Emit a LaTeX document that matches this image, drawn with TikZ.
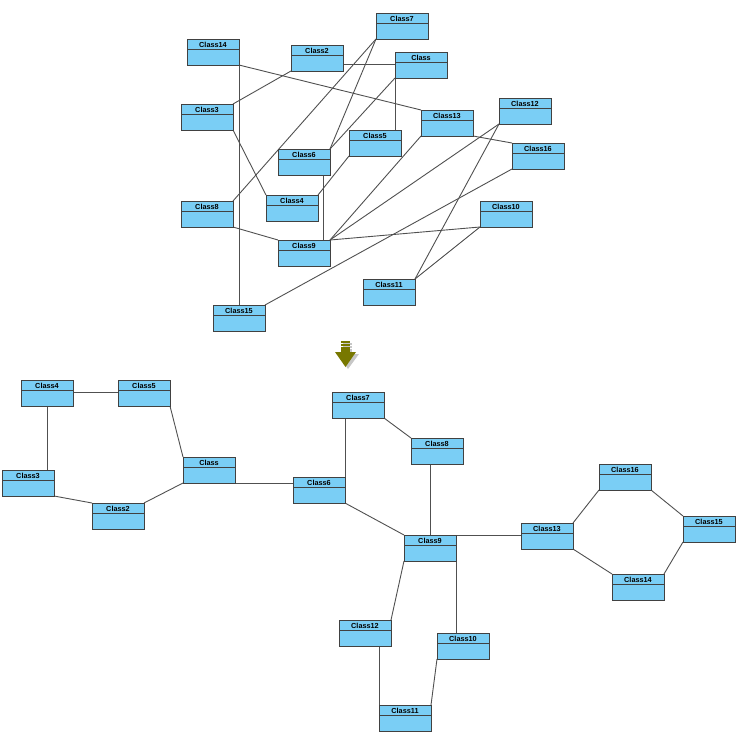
\documentclass[tikz,border=0pt]{standalone}
\usepackage{fontspec}
\setmainfont{Liberation Sans}
\usetikzlibrary{calc,backgrounds}
\definecolor{clsfill}{RGB}{122,206,245}
\definecolor{clsdraw}{RGB}{65,65,65}
\definecolor{edgecol}{RGB}{80,80,80}
\definecolor{olivearrow}{RGB}{120,120,0}
\tikzset{
  clsbox/.style={draw=clsdraw, fill=clsfill, line width=1pt, anchor=north west,
    minimum width=52pt, minimum height=26pt, inner sep=0pt, outer sep=0pt},
  clstitle/.style={anchor=base, inner sep=0pt, font=\fontsize{7.3}{8}\selectfont\bfseries, text=black},
  sepline/.style={draw=clsdraw, line width=1pt},
  edge/.style={draw=edgecol, line width=0.9pt}
}
\newcommand\umlc[4]{%
  \node[clsbox] (#1) at (#2,#3) {};
  \node[clstitle] (#1t) at ($(#1.north)+(0,8)$) {#4};
  \draw[sepline] ([yshift=-10pt]#1.north west) -- ([yshift=-10pt]#1.north east);
}
\begin{document}
\begin{tikzpicture}[x=1pt,y=-1pt]
\useasboundingbox (0,0) rectangle (738,740);
% ---------- top graph ----------
\umlc{t7}{376}{13}{Class7}
\umlc{t14}{187}{39}{Class14}
\umlc{t2}{291}{45}{Class2}
\umlc{tA}{395}{52}{Class}
\umlc{t3}{181}{104}{Class3}
\umlc{t13}{421}{110}{Class13}
\umlc{t5}{349}{130}{Class5}
\umlc{t6}{278}{149}{Class6}
\umlc{t12}{499}{98}{Class12}
\umlc{t16}{512}{143}{Class16}
\umlc{t8}{181}{201}{Class8}
\umlc{t4}{266}{195}{Class4}
\umlc{t9}{278}{240}{Class9}
\umlc{t10}{480}{201}{Class10}
\umlc{t11}{363}{279}{Class11}
\umlc{t15}{213}{305}{Class15}
\begin{scope}[on background layer]
\draw[edge] (t14.south east) -- (t13.north west);
\draw[edge] (t14.south east) -- (t14.south east |- t15.north);
\draw[edge] ([yshift=7pt]t2.south east) -- ([yshift=7pt]t2.south east -| tA.west);
\draw[edge] (t2.south west) -- (t3.north east);
\draw[edge] (t7.south west) -- (t8.north east);
\draw[edge] (t7.south west) -- (t6.north east);
\draw[edge] (tA.south west) -- (t6.north east);
\draw[edge] (tA.south west) -- (tA.south west |- t5.north);
\draw[edge] (t3.south east) -- (t4.north west);
\draw[edge] (t5.south west) -- (t4.north east);
\draw[edge] ([xshift=-7pt]t6.south east) -- ([xshift=-7pt]t9.north east);
\draw[edge] (t8.south east) -- (t9.north west);
\draw[edge] (t9.north east) -- (t13.south west);
\draw[edge] (t9.north east) -- (t12.south west);
\draw[edge] (t9.north east) -- (t10.south west);
\draw[edge] (t16.south west) -- (t15.north east);
\draw[edge] (t12.south west) -- (t11.north east);
\draw[edge] (t10.south west) -- (t11.north east);
\draw[edge] (t13.south east) -- (t16.north west);
\end{scope}
% ---------- arrow ----------
\fill[black!22] (343,343) rectangle (352,345);
\fill[black!22] (343,346) rectangle (352,348);
\fill[black!22] (343,349) rectangle (352,354);
\fill[black!22] (338,354) -- (359,354) -- (348,369) -- cycle;
\fill[olivearrow] (341,341) rectangle (350,343);
\fill[olivearrow] (341,344) rectangle (350,346);
\fill[olivearrow] (341,347) rectangle (350,352);
\fill[olivearrow] (335,352) -- (356,352) -- (345.5,367) -- cycle;
% ---------- bottom graph ----------
\umlc{b4}{21}{380}{Class4}
\umlc{b5}{118}{380}{Class5}
\umlc{b3}{2}{470}{Class3}
\umlc{b2}{92}{503}{Class2}
\umlc{bA}{183}{457}{Class}
\umlc{b6}{293}{477}{Class6}
\umlc{b7}{332}{392}{Class7}
\umlc{b8}{411}{438}{Class8}
\umlc{b9}{404}{535}{Class9}
\umlc{b13}{521}{523}{Class13}
\umlc{b16}{599}{464}{Class16}
\umlc{b15}{683}{516}{Class15}
\umlc{b14}{612}{574}{Class14}
\umlc{b12}{339}{620}{Class12}
\umlc{b10}{437}{633}{Class10}
\umlc{b11}{379}{705}{Class11}
\begin{scope}[on background layer]
\draw[edge] ([yshift=-12pt]b4.north east) -- ([yshift=-12pt]b4.north east -| b5.west);
\draw[edge] (b4.south) -- (b4.south |- b3.north);
\draw[edge] (b5.south east) -- (bA.north west);
\draw[edge] (b3.south east) -- (b2.north west);
\draw[edge] (b2.north east) -- (bA.south west);
\draw[edge] (bA.south east) -- (bA.south east -| b6.west);
\draw[edge] (b6.north east) -- (b6.north east |- b7.south);
\draw[edge] (b7.south east) -- (b8.north west);
\draw[edge] ([xshift=19pt]b8.south west) -- ([xshift=19pt]b8.south west |- b9.north);
\draw[edge] (b6.south east) -- (b9.north west);
\draw[edge] (b9.north east) -- (b9.north east -| b13.west);
\draw[edge] (b9.south east) -- (b9.south east |- b10.north);
\draw[edge] (b9.south west) -- (b12.north east);
\draw[edge] (b11.north west) -- (b11.north west |- b12.south);
\draw[edge] (b10.south west) -- (b11.north east);
\draw[edge] (b13.north east) -- (b16.south west);
\draw[edge] (b16.south east) -- (b15.north west);
\draw[edge] (b13.south east) -- (b14.north west);
\draw[edge] (b14.north east) -- (b15.south west);
\end{scope}
\end{tikzpicture}
\end{document}
